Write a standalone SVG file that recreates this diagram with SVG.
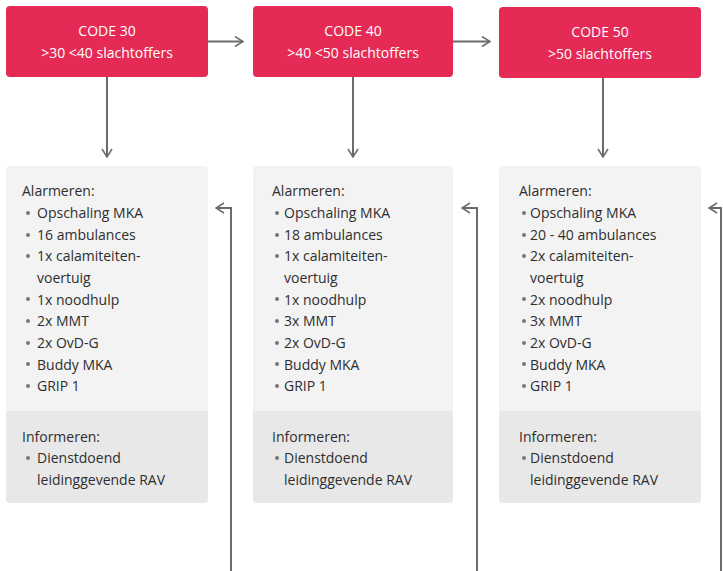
<svg xmlns="http://www.w3.org/2000/svg" width="723" height="571" viewBox="0 0 723 571">
  <defs>
    <marker id="chev" markerWidth="10" markerHeight="12" refX="9" refY="6" orient="auto" markerUnits="userSpaceOnUse">
      <path d="M1,1 L9,6 L1,11" fill="none" stroke="#6b6b6b" stroke-width="1.5"/>
    </marker>
  </defs>
  <style>
    .code { fill: #e52a55; }
    .panel { fill: #f3f3f3; }
    .inform { fill: #e8e8e8; }
    .ct { font-family: "Open Sans", "Noto Sans", sans-serif; font-size: 14px; fill: #ffffff; text-anchor: middle; }
    .tx { font-family: "Open Sans", "Noto Sans", sans-serif; font-size: 14px; fill: #2e2e2e; }
    .dot { fill: #777777; }
    .ln { fill: none; stroke: #6b6b6b; stroke-width: 2; }
  </style>
  <rect width="723" height="571" fill="#ffffff"/>

  <!-- level headers -->
  <g id="code30">
    <rect class="code" x="6" y="6" width="202" height="71" rx="4"/>
    <text class="ct" x="107" y="36">CODE 30</text>
    <text class="ct" x="107" y="58">&gt;30 &lt;40 slachtoffers</text>
  </g>
  <g id="code40">
    <rect class="code" x="253" y="6" width="200" height="71" rx="4"/>
    <text class="ct" x="353" y="36">CODE 40</text>
    <text class="ct" x="353" y="58">&gt;40 &lt;50 slachtoffers</text>
  </g>
  <g id="code50">
    <rect class="code" x="499" y="7" width="202" height="71" rx="4"/>
    <text class="ct" x="600" y="37">CODE 50</text>
    <text class="ct" x="600" y="59">&gt;50 slachtoffers</text>
  </g>

  <!-- action panels -->
  <g id="panel30">
    <rect class="panel" x="6" y="166" width="202" height="337" rx="4"/>
    <path class="inform" d="M6,411 H208 V499 a4,4 0 0 1 -4,4 H10 a4,4 0 0 1 -4,-4 Z"/>
    <text class="tx" x="22" y="196">Alarmeren:</text>
    <g class="dot">
      <circle cx="28" cy="213" r="2"/><circle cx="28" cy="235" r="2"/><circle cx="28" cy="256" r="2"/>
      <circle cx="28" cy="299" r="2"/><circle cx="28" cy="321" r="2"/><circle cx="28" cy="343" r="2"/>
      <circle cx="28" cy="364" r="2"/><circle cx="28" cy="386" r="2"/><circle cx="28" cy="458" r="2"/>
    </g>
    <text class="tx" x="37" y="218">Opschaling MKA</text>
    <text class="tx" x="37" y="239.6">16 ambulances</text>
    <text class="tx" x="37" y="261">1x calamiteiten-</text>
    <text class="tx" x="37" y="283">voertuig</text>
    <text class="tx" x="37" y="304.6">1x noodhulp</text>
    <text class="tx" x="37" y="326">2x MMT</text>
    <text class="tx" x="37" y="348">2x OvD-G</text>
    <text class="tx" x="37" y="369.6">Buddy MKA</text>
    <text class="tx" x="37" y="391">GRIP 1</text>
    <text class="tx" x="22" y="442">Informeren:</text>
    <text class="tx" x="37" y="463">Dienstdoend</text>
    <text class="tx" x="37" y="485">leidinggevende RAV</text>
  </g>
  <g id="panel40">
    <rect class="panel" x="253" y="166" width="200" height="337" rx="4"/>
    <path class="inform" d="M253,411 H453 V499 a4,4 0 0 1 -4,4 H257 a4,4 0 0 1 -4,-4 Z"/>
    <text class="tx" x="272" y="196">Alarmeren:</text>
    <g class="dot">
      <circle cx="277" cy="213" r="2"/><circle cx="277" cy="235" r="2"/><circle cx="277" cy="256" r="2"/>
      <circle cx="277" cy="299" r="2"/><circle cx="277" cy="321" r="2"/><circle cx="277" cy="343" r="2"/>
      <circle cx="277" cy="364" r="2"/><circle cx="277" cy="386" r="2"/><circle cx="277" cy="458" r="2"/>
    </g>
    <text class="tx" x="284" y="218">Opschaling MKA</text>
    <text class="tx" x="284" y="239.6">18 ambulances</text>
    <text class="tx" x="284" y="261">1x calamiteiten-</text>
    <text class="tx" x="284" y="283">voertuig</text>
    <text class="tx" x="284" y="304.6">1x noodhulp</text>
    <text class="tx" x="284" y="326">3x MMT</text>
    <text class="tx" x="284" y="348">2x OvD-G</text>
    <text class="tx" x="284" y="369.6">Buddy MKA</text>
    <text class="tx" x="284" y="391">GRIP 1</text>
    <text class="tx" x="272" y="442">Informeren:</text>
    <text class="tx" x="284" y="463">Dienstdoend</text>
    <text class="tx" x="284" y="485">leidinggevende RAV</text>
  </g>
  <g id="panel50">
    <rect class="panel" x="499" y="166" width="202" height="337" rx="4"/>
    <path class="inform" d="M499,411 H701 V499 a4,4 0 0 1 -4,4 H503 a4,4 0 0 1 -4,-4 Z"/>
    <text class="tx" x="519" y="196">Alarmeren:</text>
    <g class="dot">
      <circle cx="524" cy="213" r="2"/><circle cx="524" cy="235" r="2"/><circle cx="524" cy="256" r="2"/>
      <circle cx="524" cy="299" r="2"/><circle cx="524" cy="321" r="2"/><circle cx="524" cy="343" r="2"/>
      <circle cx="524" cy="364" r="2"/><circle cx="524" cy="386" r="2"/><circle cx="524" cy="458" r="2"/>
    </g>
    <text class="tx" x="530" y="218">Opschaling MKA</text>
    <text class="tx" x="530" y="239.6">20 - 40 ambulances</text>
    <text class="tx" x="530" y="261">2x calamiteiten-</text>
    <text class="tx" x="530" y="283">voertuig</text>
    <text class="tx" x="530" y="304.6">2x noodhulp</text>
    <text class="tx" x="530" y="326">3x MMT</text>
    <text class="tx" x="530" y="348">2x OvD-G</text>
    <text class="tx" x="530" y="369.6">Buddy MKA</text>
    <text class="tx" x="530" y="391">GRIP 1</text>
    <text class="tx" x="519" y="442">Informeren:</text>
    <text class="tx" x="530" y="463">Dienstdoend</text>
    <text class="tx" x="530" y="485">leidinggevende RAV</text>
  </g>

  <!-- connectors -->
  <g id="connectors">
    <path class="ln" d="M208,41.5 H243" marker-end="url(#chev)"/>
    <path class="ln" d="M453,41.5 H490" marker-end="url(#chev)"/>
    <path class="ln" d="M107,77 V157" marker-end="url(#chev)"/>
    <path class="ln" d="M353,77 V157" marker-end="url(#chev)"/>
    <path class="ln" d="M603,78 V157" marker-end="url(#chev)"/>
    <path class="ln" d="M231,571 V208 H216" marker-end="url(#chev)"/>
    <path class="ln" d="M477,571 V208 H462" marker-end="url(#chev)"/>
    <path class="ln" d="M721,571 V208 H709" marker-end="url(#chev)"/>
  </g>
</svg>
